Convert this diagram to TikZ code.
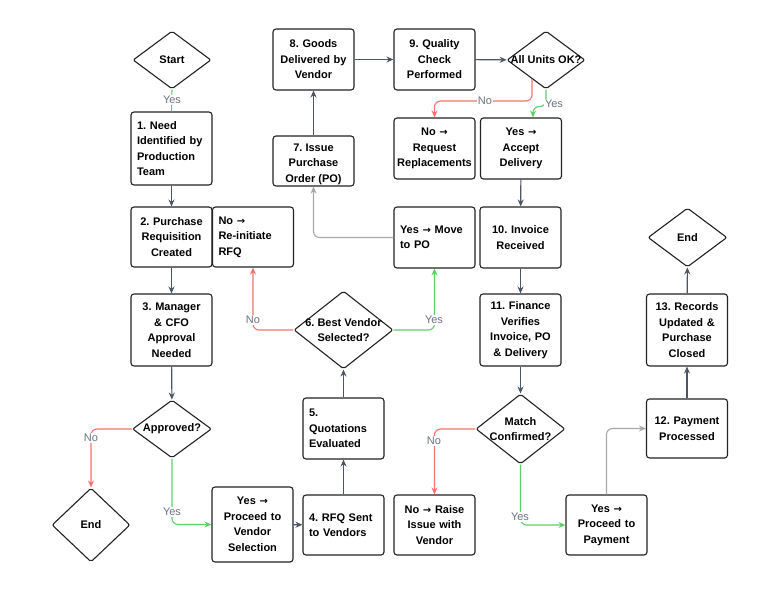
\documentclass[tikz,border=0pt]{standalone}
\usepackage{fontspec}
\setmainfont{Liberation Sans}
\newfontfamily\arrowfont{DejaVu Sans}
\newcommand{\rarr}{{\arrowfont\fontsize{10}{10}\selectfont\bfseries →}}
\usetikzlibrary{shapes.geometric,arrows.meta}
\definecolor{ink}{HTML}{222222}
\definecolor{arr}{HTML}{4B5563}
\definecolor{nored}{HTML}{F87171}
\definecolor{yesgreen}{HTML}{5CCF6A}
\definecolor{lgray}{HTML}{A8A8A8}
\definecolor{lbl}{HTML}{6B7280}
\frenchspacing
\begin{document}
\begin{tikzpicture}[x=1pt,y=-1pt,
 box/.style={draw=ink, line width=1.1pt, rounded corners=3pt, fill=white, inner xsep=2.5pt, inner ysep=0pt, text width=76pt, align=center, font=\fontsize{11}{15.5}\selectfont\bfseries, minimum width=81pt},
 lbox/.style={box, inner xsep=6pt, text width=69pt, align=left},
 dia/.style={draw=ink, line width=1.1pt, diamond, inner sep=0pt, fill=white, rounded corners=2pt},
 dtext/.style={font=\fontsize{11}{15.5}\selectfont\bfseries, align=center, inner sep=0pt},
 conn/.style={draw=arr, line width=1.1pt, -{Stealth[length=7pt,width=6pt]}, rounded corners=6pt},
 noline/.style={conn, draw=nored},
 yesline/.style={conn, draw=yesgreen},
 grayline/.style={conn, draw=lgray},
 lab/.style={fill=white, text=lbl, font=\fontsize{11}{13}\selectfont, inner sep=1pt}
]
\useasboundingbox (0,0) rectangle (768,605);

% diamonds
\node[dia, minimum width=78pt, minimum height=58pt] (start) at (172,60) {};
\node[dtext] at (start) {Start};
\node[dia, minimum width=79pt, minimum height=58pt] (approved) at (172,429) {};
\node[dtext] at (approved) {Approved?};
\node[dia, minimum width=78pt, minimum height=74pt] (end1) at (91,525) {};
\node[dtext] at (end1) {End};
\node[dia, minimum width=99pt, minimum height=78pt] (d6) at (343.5,330) {};
\node[dtext] at (d6) {6. Best Vendor\\Selected?};
\node[dia, minimum width=78pt, minimum height=58pt] (allok) at (546,60) {};
\node[dtext] at (allok) {All Units OK?};
\node[dia, minimum width=89pt, minimum height=70pt] (match) at (520.5,429) {};
\node[dtext] at (match) {Match\\Confirmed?};
\node[dia, minimum width=79pt, minimum height=59pt] (end2) at (687.5,237.5) {};
\node[dtext] at (end2) {End};

% boxes
\node[lbox, minimum height=73pt] (n1) at (171.5,148.5) {1. Need\\Identified by\\Production\\Team};
\node[box, minimum height=60pt] (n2) at (171.5,237) {2. Purchase\\Requisition\\Created};
\node[lbox, minimum height=60pt, minimum width=80pt] (reinit) at (253,237) {No \rarr\\Re-initiate\\RFQ};
\node[box, minimum height=72pt] (n3) at (171.5,330) {3. Manager\\\& CFO\\Approval\\Needed};
\node[box, minimum height=75pt] (proceedV) at (252.5,524.5) {Yes \rarr\\Proceed to\\Vendor\\Selection};
\node[lbox, minimum height=60pt] (n4) at (343.5,525) {4. RFQ Sent\\to Vendors};
\node[lbox, minimum height=61pt] (n5) at (343.5,428.5) {5.\\Quotations\\Evaluated};
\node[lbox, minimum height=61pt] (movepo) at (434.5,237.5) {Yes \rarr\ Move\\to PO};
\node[box, minimum height=50pt] (n7) at (313.5,161) {};
\node[dtext] at (313.5,164) {7. Issue\\Purchase\\Order (PO)};
\node[box, minimum height=61pt] (n8) at (313.5,59.5) {8. Goods\\Delivered by\\Vendor};
\node[box, minimum height=61pt] (n9) at (434.5,59.5) {9. Quality\\Check\\Performed};
\node[box, minimum height=61pt] (reqrepl) at (434.5,148.5) {No \rarr\\Request\\Replacements};
\node[box, minimum height=61pt] (accept) at (521,148.5) {Yes \rarr\\Accept\\Delivery};
\node[box, minimum height=61pt] (n10) at (520.5,237.5) {10. Invoice\\Received};
\node[box, minimum height=72pt] (n11) at (520.5,330) {11. Finance\\Verifies\\Invoice, PO\\\& Delivery};
\node[box, minimum height=60pt] (raise) at (434.5,525) {No \rarr\ Raise\\Issue with\\Vendor};
\node[box, minimum height=60pt] (proceedP) at (606.5,525) {Yes \rarr\\Proceed to\\Payment};
\node[box, minimum height=59pt] (n12) at (687,428.5) {12. Payment\\Processed};
\node[box, minimum height=72pt] (n13) at (687,330) {13. Records\\Updated \&\\Purchase\\Closed};

% connectors
\draw[yesgreen, line width=1.1pt] (start.south) -- (n1.north);
\draw[conn] (n1) -- (n2);
\draw[conn] (n2) -- (n3);
\draw[conn] (n3) -- (approved);
\draw[noline] (approved.west) -| (end1.north);
\draw[yesline] (approved.south) |- (proceedV.west);
\draw[conn] (proceedV) -- (n4);
\draw[conn] (n4) -- (n5);
\draw[conn] (n5) -- (d6);
\draw[noline] (d6.west) -| (reinit.south);
\draw[yesline] (d6.east) -| (movepo.south);
\draw[grayline] (movepo.west) -| (n7.south);
\draw[conn] (n7) -- (n8);
\draw[conn] (n8) -- (n9);
\draw[conn] (n9) -- (allok);
\coordinate (aNo) at (532,79);
\draw[noline] (aNo) -- ++(0,22) -| (reqrepl.north);
\draw[yesline] (allok.south) -- ++(0,17) -| ([xshift=12pt]accept.north);
\draw[conn] (accept) -- (n10);
\draw[conn] (n10) -- (n11);
\draw[conn] (n11) -- (match);
\draw[noline] (match.west) -| (raise.north);
\draw[yesline] (match.south) |- (proceedP.west);
\draw[grayline] (proceedP.north) |- (n12.west);
\draw[conn] (n12) -- (n13);
\draw[conn] (n13) -- (end2);

% labels
\node[lab] at (172,100) {Yes};
\node[lab] at (91,438) {No};
\node[lab] at (172,512) {Yes};
\node[lab] at (253,320) {No};
\node[lab] at (434,320) {Yes};
\node[lab] at (485,101) {No};
\node[lab] at (554,104) {Yes};
\node[lab] at (434,441) {No};
\node[lab] at (520,517) {Yes};
\end{tikzpicture}
\end{document}
